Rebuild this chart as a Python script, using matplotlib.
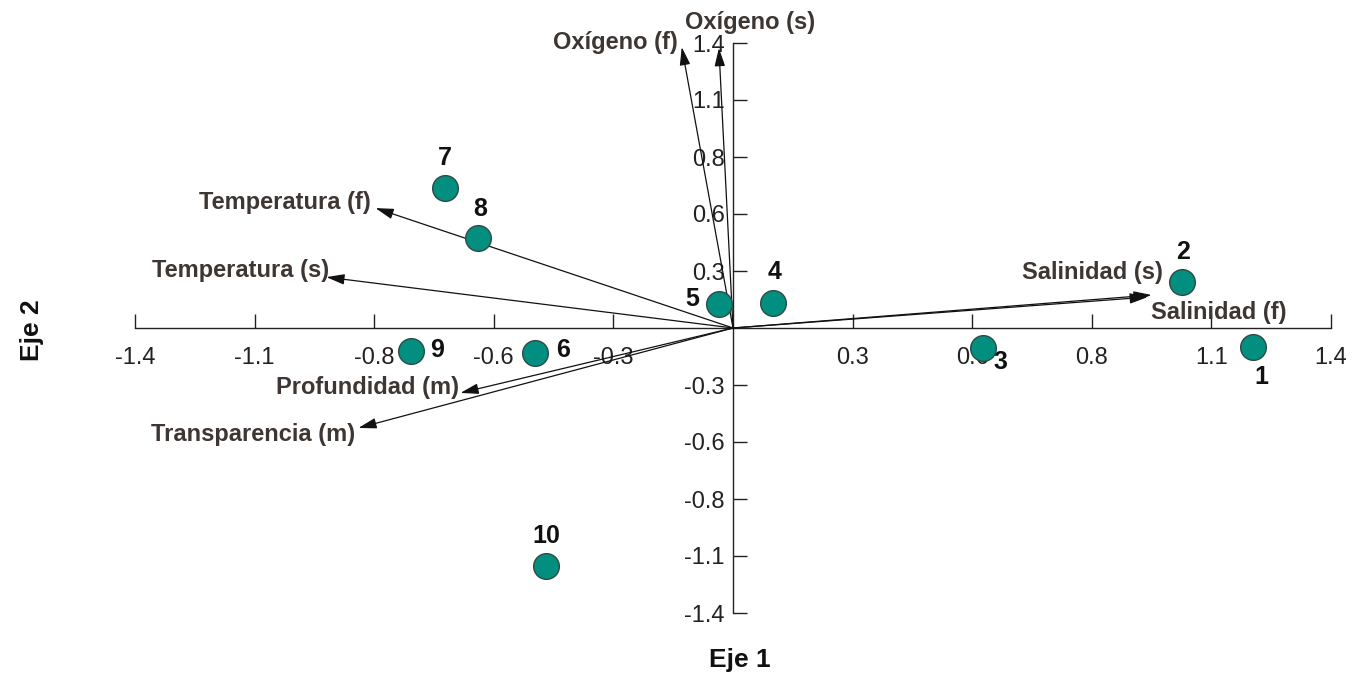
import matplotlib
matplotlib.use("Agg")
import matplotlib.pyplot as plt
from matplotlib import font_manager

# ---- data ----
site_labels = ["1", "2", "3", "4", "5", "6", "7", "8", "9", "10"]
site_x = [1.218, 1.052, 0.585, 0.094, -0.033, -0.464, -0.674, -0.597, -0.754, -0.438]
site_y = [-0.093, 0.226, -0.098, 0.123, 0.118, -0.123, 0.688, 0.442, -0.113, -1.169]

var_labels = ["Oxígeno (f)", "Oxígeno (s)", "Temperatura (f)", "Temperatura (s)",
              "Salinidad (s)", "Salinidad (f)", "Profundidad (m)", "Transparencia (m)"]
var_x = [-0.120, -0.033, -0.837, -0.952, 0.980, 0.971, -0.638, -0.877]
var_y = [1.380, 1.375, 0.589, 0.250, 0.162, 0.152, -0.319, -0.491]

tick_vals = [-1.4, -1.12, -0.84, -0.56, -0.28, 0.28, 0.56, 0.84, 1.12, 1.4]
tick_text = ["-1.4", "-1.1", "-0.8", "-0.6", "-0.3", "0.3", "0.6", "0.8", "1.1", "1.4"]

# ---- layout (offsets in pixels) ----
var_offsets = [(-66, 5), (31, 26), (-91, 6), (-86, 7), (-59, 23), (71, -15), (-93, 5), (-105, -7)]
site_offsets = [(8, -30), (1, 30), (18, -14), (1, 31), (-27, 5), (28, 3), (0, 30), (2, 29), (26, 1), (0, 30)]

avail = {f.name for f in font_manager.fontManager.ttflist}
narrow = "Liberation Sans Narrow" if "Liberation Sans Narrow" in avail else "Liberation Sans"
FAM = [narrow, "DejaVu Sans"]
plt.rcParams["font.family"] = FAM

W, H = 1361, 677
fig = plt.figure(figsize=(W / 100, H / 100), dpi=100)
fig.patch.set_facecolor("white")
ax = fig.add_axes([135 / W, (H - 613) / H, 1196 / W, 570 / H])
ax.set_xlim(-1.4, 1.4)
ax.set_ylim(-1.4, 1.4)
ax.set_facecolor("none")

for s in ["top", "right"]:
    ax.spines[s].set_visible(False)
ax.spines["left"].set_position(("data", 0))
ax.spines["bottom"].set_position(("data", 0))
for s in ["left", "bottom"]:
    ax.spines[s].set_linewidth(1.0)
    ax.spines[s].set_color("#222222")

ax.set_xticks(tick_vals)
ax.set_xticklabels(tick_text)
ax.set_yticks(tick_vals)
ax.set_yticklabels(tick_text)
ax.tick_params(axis="x", direction="in", length=10, width=1, pad=14, labelsize=17, colors="#222222")
ax.tick_params(axis="y", direction="in", length=10, width=1, pad=6, labelsize=17, colors="#222222")
for lab in ax.get_xticklabels() + ax.get_yticklabels():
    lab.set_clip_on(False)

# arrows
for lx, ly, name, (dx, dy) in zip(var_x, var_y, var_labels, var_offsets):
    ax.annotate("", xy=(lx, ly), xytext=(0, 0),
                arrowprops=dict(arrowstyle="-|>,head_length=1.1,head_width=0.32",
                                color="#111111", lw=0.9, shrinkA=0, shrinkB=0),
                annotation_clip=False)
    ax.annotate(name, xy=(lx, ly), xytext=(dx, dy), textcoords="offset pixels",
                ha="center", va="center", fontsize=17, fontweight="bold",
                color="#3d3632", annotation_clip=False)

# sites
ax.scatter(site_x, site_y, s=18.5 ** 2, color="#038f80", edgecolor="#2e4a46",
           linewidth=1.0, zorder=5, clip_on=False)
for px, py, name, (dx, dy) in zip(site_x, site_y, site_labels, site_offsets):
    ax.annotate(name, xy=(px, py), xytext=(dx, dy), textcoords="offset pixels",
                ha="center", va="center", fontsize=18, fontweight="bold",
                color="#111111", annotation_clip=False)

fig.text(740 / W, 1 - 660 / H, "Eje 1", ha="center", va="center",
         fontsize=19, fontweight="bold", color="#111111")
fig.text(32 / W, 1 - 330 / H, "Eje 2", ha="center", va="center", rotation=90,
         fontsize=19, fontweight="bold", color="#111111")

fig.savefig("out.png", dpi=100, facecolor="white")
